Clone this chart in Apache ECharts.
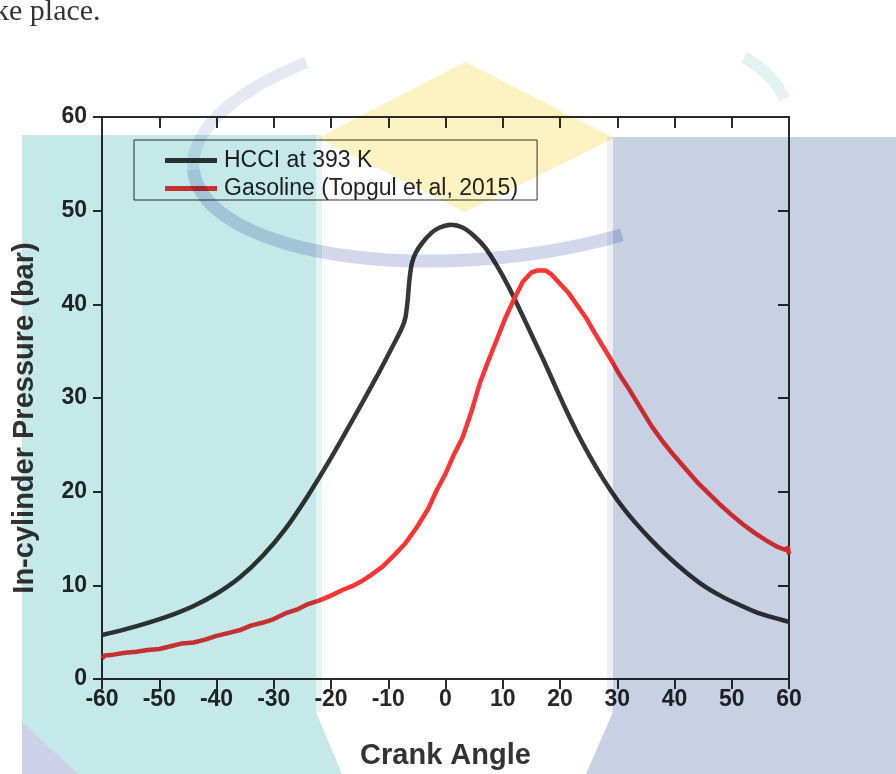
<!DOCTYPE html>
<html>
<head>
<meta charset="utf-8">
<title>In-cylinder Pressure vs Crank Angle</title>
<script src="https://cdn.jsdelivr.net/npm/echarts@6/dist/echarts.min.js"></script>
<style>
  html, body { margin: 0; padding: 0; background: #ffffff; }
  #chart { width: 896px; height: 774px; }
</style>
</head>
<body>
<div id="chart"></div>
<script>
// HCCI engine pressure trace at 393 K intake temperature
const hcciAngle = [-60, -56, -52, -48, -44, -40, -36, -32, -28, -24, -20, -16, -12, -9, -7.6, -7, -6.6, -6.3, -5.9, -5.2, -4, -2.5, -1, 1, 3, 5, 7, 9, 11, 13, 15, 17, 19, 21, 23, 25, 27, 29, 31, 33, 36, 39, 42, 45, 48, 51, 54, 57, 60];
const hcciPressure = [4.7, 5.3, 6.0, 6.8, 7.8, 9.1, 10.8, 13.1, 16.0, 19.6, 23.6, 27.9, 32.3, 35.8, 37.5, 38.6, 40.5, 42.6, 44.3, 45.5, 46.6, 47.6, 48.2, 48.5, 48.2, 47.3, 46.0, 44.1, 41.9, 39.4, 36.8, 34.2, 31.5, 28.8, 26.3, 24.0, 21.9, 20.0, 18.3, 16.8, 14.8, 13.0, 11.4, 10.0, 8.9, 8.0, 7.2, 6.6, 6.1];

// Gasoline SI reference trace (Topgul et al, 2015)
const gasAngle = [-60, -59.5, -58, -56, -54, -52, -50, -48, -46, -44, -42, -40, -38, -36, -34, -32, -30, -28, -26, -24, -22, -20, -18, -16, -14.5, -13, -11, -9, -7, -5, -3, -1.5, 0, 1.5, 3, 4.5, 6, 7.5, 9, 10.5, 12, 13.5, 15, 16, 17.5, 18.5, 20, 21.5, 23, 24.5, 26, 27.5, 29, 30.5, 32, 34, 36, 38, 40, 42, 44, 46, 48, 50, 52, 54, 56, 58, 59.3, 59.8, 60];
const gasPressure = [2.2, 2.5, 2.6, 2.8, 2.9, 3.1, 3.2, 3.5, 3.8, 3.9, 4.2, 4.6, 4.9, 5.2, 5.7, 6.0, 6.4, 7.0, 7.4, 8.0, 8.4, 8.9, 9.5, 10.0, 10.5, 11.1, 12.0, 13.2, 14.5, 16.2, 18.2, 20.2, 21.9, 24.0, 25.8, 28.5, 31.6, 34.0, 36.3, 38.6, 40.6, 42.4, 43.4, 43.6, 43.6, 43.2, 42.2, 41.2, 39.9, 38.6, 37.0, 35.5, 34.0, 32.4, 31.0, 29.0, 27.0, 25.3, 23.8, 22.4, 21.0, 19.8, 18.6, 17.5, 16.5, 15.6, 14.8, 14.1, 13.8, 14.0, 13.3];

const seriesNames = ['HCCI at 393 K', 'Gasoline (Topgul et al, 2015)'];
const xTitle = 'Crank Angle';
const yTitle = 'In-cylinder Pressure (bar)';
const headText = 'ke place.';

const pairs = (xs, ys) => xs.map((x, i) => [x, ys[i]]);

const sans = 'Liberation Sans, Arial, sans-serif';
const axisColor = '#2b2b2b';
const tickFont = { fontFamily: sans, fontWeight: 'bold', fontSize: 23, color: '#262626' };

// points along a tilted elliptical arc (page decoration)
function ellipseArc(cx, cy, rx, ry, tilt, t0, t1, steps) {
  const pts = [];
  const c = Math.cos(tilt), s = Math.sin(tilt);
  for (let i = 0; i <= steps; i++) {
    const t = t0 + (t1 - t0) * i / steps;
    const ex = rx * Math.cos(t), ey = ry * Math.sin(t);
    pts.push([cx + ex * c - ey * s, cy + ex * s + ey * c]);
  }
  return pts;
}

const chart = echarts.init(document.getElementById('chart'), null, { renderer: 'canvas' });

// Page watermark shapes, laid over the plot with multiply blending
const wm = (el) => Object.assign({ z: 100, silent: true }, el);

chart.setOption({
  backgroundColor: '#ffffff',
  animation: false,
  grid: { left: 102, right: 107, top: 117, bottom: 95, containLabel: false, outerBoundsMode: 'none' },
  legend: {
    orient: 'vertical',
    left: 134,
    top: 140,
    padding: [9, 19, 0, 31],
    itemGap: 5,
    itemWidth: 52,
    itemHeight: 5,
    icon: 'rect',
    borderColor: '#333',
    borderWidth: 1,
    textStyle: { fontFamily: sans, fontSize: 23, color: '#222', padding: [0, 0, 0, 2] },
    data: seriesNames
  },
  xAxis: [
    {
      type: 'value', position: 'bottom', min: -60, max: 60, interval: 10,
      name: xTitle, nameLocation: 'middle', nameGap: 62,
      nameTextStyle: { fontFamily: sans, fontWeight: 'bold', fontSize: 29, color: '#333' },
      axisLine: { show: true, onZero: false, lineStyle: { color: axisColor, width: 2 } },
      axisTick: { show: true, inside: false, length: 10, lineStyle: { color: axisColor, width: 2 } },
      axisLabel: Object.assign({ margin: 9 }, tickFont),
      splitLine: { show: false }
    },
    {
      type: 'value', position: 'top', min: -60, max: 60, interval: 10,
      axisLine: { show: true, onZero: false, lineStyle: { color: axisColor, width: 2 } },
      axisTick: { show: true, inside: true, length: 11, lineStyle: { color: axisColor, width: 2 } },
      axisLabel: { show: false },
      splitLine: { show: false }
    }
  ],
  yAxis: [
    {
      type: 'value', position: 'left', min: 0, max: 60, interval: 10,
      axisLine: { show: true, onZero: false, lineStyle: { color: axisColor, width: 2 } },
      axisTick: { show: true, inside: false, length: 9, lineStyle: { color: axisColor, width: 2 } },
      axisLabel: Object.assign({ margin: 15 }, tickFont),
      splitLine: { show: false }
    },
    {
      type: 'value', position: 'right', min: 0, max: 60, interval: 10,
      axisLine: { show: true, onZero: false, lineStyle: { color: axisColor, width: 2 } },
      axisTick: { show: true, inside: true, length: 11, lineStyle: { color: axisColor, width: 2 } },
      axisLabel: { show: false },
      splitLine: { show: false }
    }
  ],
  series: [
    {
      name: seriesNames[0], type: 'line', xAxisIndex: 0, yAxisIndex: 0,
      data: pairs(hcciAngle, hcciPressure),
      smooth: 0.25, showSymbol: false,
      lineStyle: { color: '#363636', width: 4.5 },
      itemStyle: { color: '#363636' }
    },
    {
      name: seriesNames[1], type: 'line', xAxisIndex: 0, yAxisIndex: 0,
      data: pairs(gasAngle, gasPressure),
      smooth: false, showSymbol: false,
      lineStyle: { color: '#ff3535', width: 4.5, join: 'round' },
      itemStyle: { color: '#ff3535' }
    }
  ],
  graphic: [
    // fragment of the running text above the figure
    { type: 'text', x: -6, y: 27, z: 110, silent: true,
      style: { text: headText, font: '30px "Liberation Serif", "Times New Roman", serif', fill: '#333', verticalAlign: 'bottom' } },
    // y-axis title, set slightly below the plot centre
    { type: 'text', x: 25, y: 418, rotation: Math.PI / 2, z: 50, silent: true,
      style: { text: yTitle, font: 'bold 29px ' + sans, fill: '#333', align: 'center', verticalAlign: 'middle' } },
    // teal panel (left)
    wm({ type: 'rect', shape: { x: 22, y: 135, width: 294, height: 640 }, style: { fill: '#c5e9e8', blend: 'multiply' } }),
    wm({ type: 'rect', shape: { x: 316, y: 135, width: 6, height: 577 }, style: { fill: '#e4f4f3', blend: 'multiply' } }),
    wm({ type: 'polygon', shape: { points: [[316, 712], [342, 774], [316, 774]] }, style: { fill: '#c5e9e8', blend: 'multiply' } }),
    // lavender corner bottom-left
    { type: 'polygon', z: 101, silent: true, shape: { points: [[22, 722], [78, 774], [22, 774]] }, style: { fill: '#cdd1ea' } },
    // slate panel (right)
    wm({ type: 'rect', shape: { x: 613, y: 137, width: 283, height: 640 }, style: { fill: '#c8d0e4', blend: 'multiply' } }),
    wm({ type: 'rect', shape: { x: 607, y: 137, width: 6, height: 575 }, style: { fill: '#eff0f6', blend: 'multiply' } }),
    wm({ type: 'polygon', shape: { points: [[613, 712], [586, 774], [613, 774]] }, style: { fill: '#c8d0e4', blend: 'multiply' } }),
    // yellow diamond
    wm({ type: 'polygon', shape: { points: [[465, 62], [614, 138], [465, 212], [318, 138]] }, style: { fill: '#fcf2c2', blend: 'multiply' } }),
    // ring: faint upper-left and upper-right stretches, stronger lower-left sweep
    wm({ type: 'polyline', shape: { points: ellipseArc(490, 140, 298, 118, -0.1, Math.PI, 1.3 * Math.PI, 40) },
      style: { fill: null, stroke: '#e6e9f4', lineWidth: 12, blend: 'multiply' } }),
    wm({ type: 'polyline', shape: { points: ellipseArc(490, 140, 298, 118, -0.1, 1.84 * Math.PI, 1.97 * Math.PI, 20) },
      style: { fill: null, stroke: '#e3f3f3', lineWidth: 12, blend: 'multiply' } }),
    wm({ type: 'polyline', shape: { points: ellipseArc(490, 140, 298, 118, -0.1, 1.15, Math.PI, 80) },
      style: { fill: null, stroke: '#d2d7ec', lineWidth: 13, blend: 'multiply' } })
  ]
});
</script>
</body>
</html>
